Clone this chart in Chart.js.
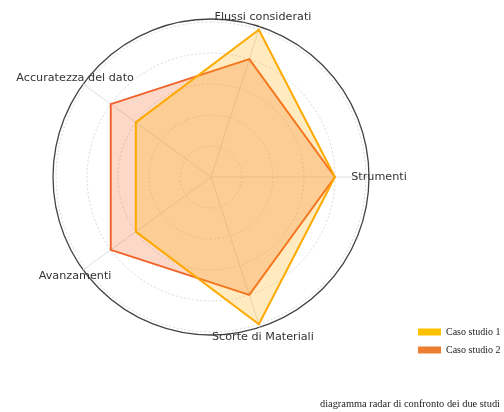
<!DOCTYPE html>
<html>
<head>
<meta charset="utf-8">
<script src="https://cdn.jsdelivr.net/npm/chart.js@4"></script>
<style>
  html, body { margin: 0; padding: 0; background: #fff; }
  #wrap { width: 504px; height: 412px; }
</style>
</head>
<body>
<div id="wrap"><canvas id="radarChart"></canvas></div>
<script>
const categories = ["Flussi considerati", "Strumenti", "Scorte di Materiali", "Avanzamenti", "Accuratezza del dato"];
const casoStudio1 = [5, 4, 5, 3, 3];
const casoStudio2 = [4, 4, 4, 4, 4];
const tickValues = [0, 1, 2, 3, 4, 5];
const scaleMax = 5.1;

// axis names centred just outside the outer ring
const axisLabels = {
  id: 'axisLabels',
  afterDraw(chart) {
    const scale = chart.scales.r;
    const ctx = chart.ctx;
    const dist = scale.getDistanceFromCenterForValue(scaleMax) + 10;
    ctx.save();
    ctx.font = '11.2px "DejaVu Sans"';
    ctx.fillStyle = '#333';
    ctx.textAlign = 'center';
    ctx.textBaseline = 'middle';
    categories.forEach((label, i) => {
      const p = scale.getPointPosition(i, dist);
      ctx.fillText(label, p.x, p.y);
    });
    ctx.restore();
  }
};

const ctx = document.getElementById("radarChart");
new Chart(ctx, {
  type: 'radar',
  data: {
    labels: categories,
    datasets: [{
      label: "Caso studio 1",
      data: casoStudio1,
      backgroundColor: 'rgba(255, 176, 0, 0.25)',
      borderColor: '#FFAA00',
      borderWidth: 2,
      fill: true
    }, {
      label: "Caso studio 2",
      data: casoStudio2,
      backgroundColor: 'rgba(242, 101, 34, 0.25)',
      borderColor: '#F0642A',
      borderWidth: 2,
      fill: true
    }]
  },
  options: {
    responsive: true,
    maintainAspectRatio: false,
    animation: false,
    layout: { padding: { top: 19, left: 12, right: 4, bottom: 0 } },
    elements: {
      point: { radius: 0, hoverRadius: 0 },
      line: { tension: 0, borderJoinStyle: 'miter' }
    },
    scales: {
      r: {
        min: 0,
        max: scaleMax,
        startAngle: 18,
        afterBuildTicks: (scale) => {
          scale.ticks = tickValues.concat([scaleMax]).map(v => ({ value: v }));
        },
        ticks: { display: false },
        pointLabels: { display: false },
        angleLines: { color: '#dedede', lineWidth: 1 },
        grid: {
          circular: true,
          color: (c) => c.tick && c.tick.value === scaleMax ? '#444' : '#cfcfcf',
          lineWidth: (c) => c.tick && c.tick.value === scaleMax ? 1.3 : 0.8
        },
        border: {
          dash: (c) => c.tick && c.tick.value === scaleMax ? [] : [2, 2]
        }
      }
    },
    plugins: {
      tooltip: { enabled: false },
      legend: {
        position: 'right',
        align: 'start',
        maxWidth: 90,
        title: {
          display: true,
          text: ' ',
          font: { size: 10 },
          padding: { top: 288, bottom: 0 }
        },
        labels: {
          boxWidth: 23,
          boxHeight: 7,
          padding: 8,
          color: '#222',
          font: { family: '"Liberation Serif"', size: 10 },
          generateLabels: (chart) => {
            const items = Chart.defaults.plugins.legend.labels.generateLabels(chart);
            const swatches = ['#FFC000', '#ED7D31'];
            items.forEach((it, i) => {
              it.fillStyle = swatches[i];
              it.strokeStyle = swatches[i];
              it.lineWidth = 0;
            });
            return items;
          }
        }
      },
      title: {
        display: true,
        position: 'bottom',
        align: 'end',
        text: 'diagramma radar di confronto dei due studi',
        color: '#222',
        font: { family: '"Liberation Serif"', size: 10.4, weight: 'normal' },
        padding: { top: 63, bottom: 1 }
      }
    }
  },
  plugins: [axisLabels]
});
</script>
</body>
</html>
